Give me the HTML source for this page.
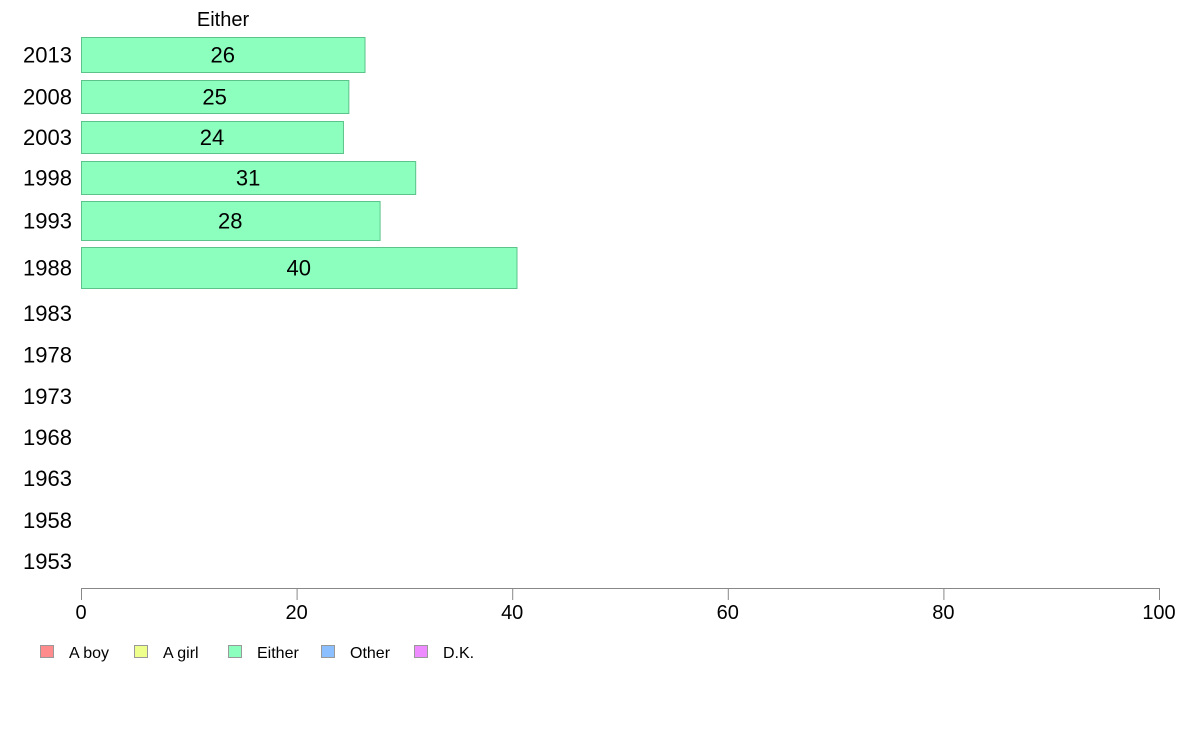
<!DOCTYPE html>
<html><head><meta charset="utf-8"><style>
body{margin:0;background:#fff;}
svg{display:block;font-family:"Liberation Sans",Arial,sans-serif;}
</style></head><body>
<svg id="chart" width="1188" height="736"></svg>
<script>
const years=["2013","2008","2003","1998","1993","1988","1983","1978","1973","1968","1963","1958","1953"];
const eitherValues=[26.3,24.8,24.3,31.0,27.7,40.4,null,null,null,null,null,null,null];
const eitherLabels=["26","25","24","31","28","40","","","","","","",""];
const xTicks=[0,20,40,60,80,100];
const legendNames=["A boy","A girl","Either","Other","D.K."];
const legendColors=["#ff8c8c","#eeff8c","#8cffbf","#8cbfff","#ee8cff"];
// layout (row geometry, not data)
const rowTop=[37,80,121,161,201,247,293,335,376,417,458,500,541];
const rowBot=[72,113,153,194,240,288,333,374,416,457,498,540,581];
const svg=document.getElementById('chart');
const NS='http://www.w3.org/2000/svg';
const x0=81,x1=1159;
const xs=v=>x0+(v/100)*(x1-x0);
function mk(tag,attrs,txt){const e=document.createElementNS(NS,tag);for(const k in attrs)e.setAttribute(k,attrs[k]);if(txt!==undefined)e.textContent=txt;svg.appendChild(e);return e;}
let t=mk('text',{x:223,y:26,'font-size':20,'text-anchor':'middle',fill:'#000'},'Either');


years.forEach((y,i)=>{
  const cy=(rowTop[i]+rowBot[i])/2;
  let l=mk('text',{x:72,y:cy+8,'font-size':22,'text-anchor':'end',fill:'#000'},y);
  
  
  if(eitherValues[i]!=null){
    let r=mk('rect',{x:x0+0.5,y:rowTop[i]+0.5,width:xs(eitherValues[i])-x0,height:rowBot[i]-rowTop[i],fill:'#8cffbf',stroke:'#5cc48a','stroke-width':1});
    
    
    let v=mk('text',{x:(x0+xs(eitherValues[i]))/2,y:cy+8,'font-size':22,'text-anchor':'middle',fill:'#000'},eitherLabels[i]);
    
    
  }
});
let ax=mk('line',{x1:x0,x2:x1,y1:588.5,y2:588.5,stroke:'#888','stroke-width':1});


xTicks.forEach(v=>{
  let tk=mk('line',{x1:xs(v)+0.5,x2:xs(v)+0.5,y1:588,y2:600,stroke:'#888','stroke-width':1});
  
  
  let tl=mk('text',{x:xs(v),y:619,'font-size':20,'text-anchor':'middle',fill:'#000'},String(v));
  
  
});
const legX=[40,134,228,321,414];
legendNames.forEach((n,i)=>{
  let s=mk('rect',{x:legX[i]+0.5,y:645.5,width:13,height:12,fill:legendColors[i],stroke:'#999','stroke-width':1});
  
  
  let lt=mk('text',{x:legX[i]+29,y:658,'font-size':16,fill:'#000'},n);
  
  
});
</script>
</body></html>
